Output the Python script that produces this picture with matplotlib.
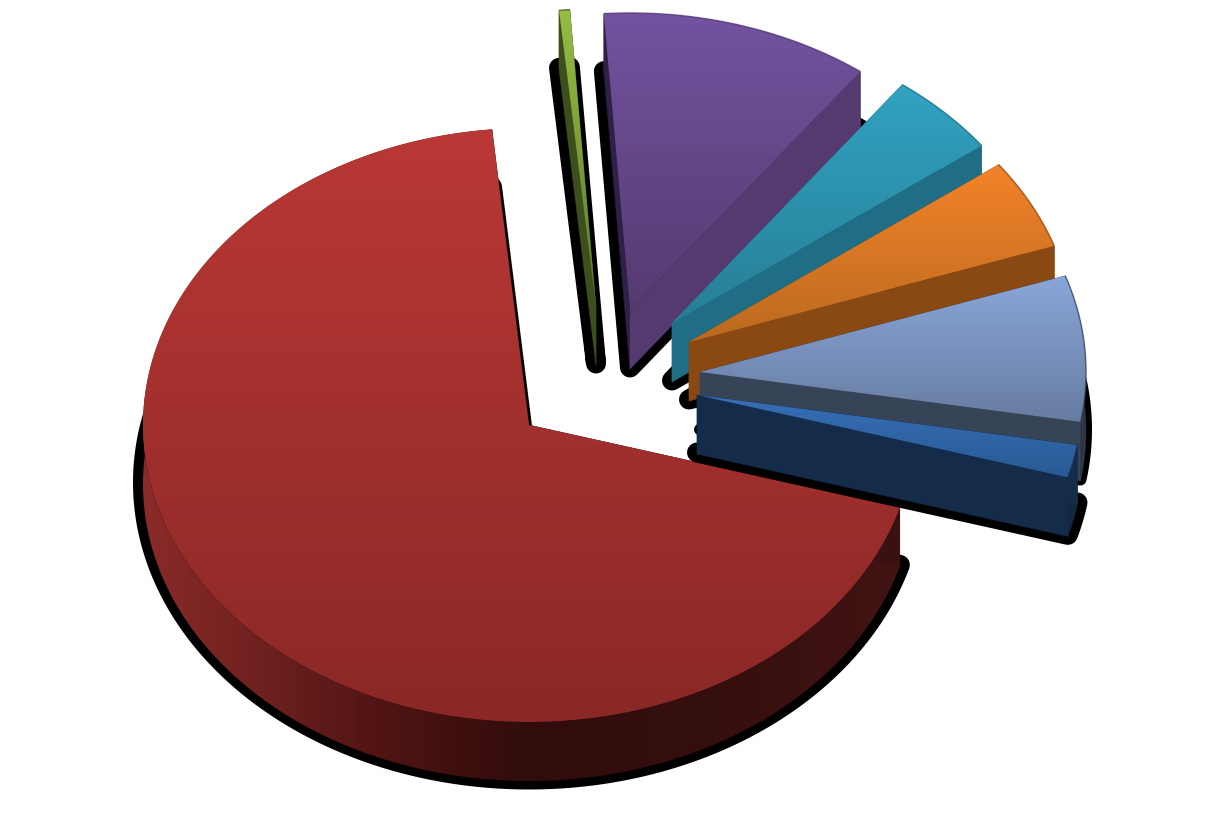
import matplotlib.pyplot as plt
import numpy as np
from matplotlib.collections import LineCollection
from matplotlib.colors import LinearSegmentedColormap, to_rgb
from matplotlib.patches import Polygon

# fatias, no sentido horario a partir do topo (valores em %)
fatias = ["verde", "roxo", "azul-petroleo", "laranja", "azul claro", "azul", "vermelho"]
valores = [0.45, 11.25, 4.64, 4.94, 7.94, 1.78, 69.0]

# cores: topo claro, topo escuro, parede da frente, parede esquerda, parede curva
topo_claro = ["#97BC45", "#7353A0", "#31A3C1", "#F48329", "#8AA6DA", "#3770B8", "#BA3835"]
topo_escuro = ["#5E7A28", "#553A70", "#277E96", "#BA6A20", "#677CA0", "#285A94", "#892826"]
parede = ["#3D4F1C", "#553A70", "#206E85", "#8A4912", "#374357", "#152B4A", "#3A1010"]
parede_esq = ["#3D4F1C", "#2E2046", "#206E85", "#8A4912", "#374357", "#152B4A", "#3A1010"]
parede_arco = ["#3D4F1C", "#553A70", "#206E85", "#8A4912", "#2E3547", "#14273F", "#3A1010"]

# posicao do vertice de cada fatia em pixels da figura (layout)
vertice_x = [596, 630, 672, 689, 700, 697, 529]
vertice_y = [306, 310, 323, 342, 372, 395, 425]
# largura da sombra de cada fatia, em pixels
sombra_px = [20, 20, 20, 20, 12, 20, 20]

angulo_inicial = 95.5
raio_x = 386.0
raio_y = 297.0
altura = 59 / raio_y
sombra_dy = 1.5 / raio_y  # sobe a sombra um pouco

fig = plt.figure(figsize=(12.06, 8.34), dpi=100, facecolor="white")
ax = fig.add_axes([0, 0, 1, 1])
# eixos em unidades do raio: a elipse vem da diferenca de escala entre x e y
xlim = (-529 / raio_x, (1206 - 529) / raio_x)
ylim = (-(834 - 425) / raio_y, 425 / raio_y)
ax.set_xlim(xlim)
ax.set_ylim(ylim)
ax.set_autoscale_on(False)
ax.axis("off")

valores = np.array(valores)
fim = angulo_inicial - np.cumsum(valores) * 3.6
ini = fim + valores * 3.6
cx = (np.array(vertice_x) - 529) / raio_x
cy = (425 - np.array(vertice_y)) / raio_y


def arco(c_x, c_y, a1, a2):
    t = np.radians(np.linspace(a1, a2, max(int(abs(a2 - a1) * 2), 8)))
    return np.column_stack([c_x + np.cos(t), c_y + np.sin(t)])


def gradiente(patch, cores, vertical, z):
    # imagem de gradiente recortada pelo contorno da face
    pts = patch.get_xy()
    mapa = LinearSegmentedColormap.from_list("g", cores)
    if vertical:
        dados = np.linspace(0, 1, 256).reshape(-1, 1)
    else:
        dados = np.linspace(0, 1, 256).reshape(1, -1)
    im = ax.imshow(dados, cmap=mapa, aspect="auto", interpolation="bilinear", zorder=z, origin="upper",
                   extent=[pts[:, 0].min(), pts[:, 0].max(), pts[:, 1].min(), pts[:, 1].max()])
    patch.set_transform(ax.transData)
    im.set_clip_path(patch)


# vermelho primeiro, depois as fatias destacadas de tras para a frente
ordem = [6, 0, 1, 2, 3, 4, 5]
z = 1
for i in ordem:
    a_ini, a_fim = ini[i], fim[i]
    pts_arco = arco(cx[i], cy[i], a_ini, a_fim)
    v = np.array([[cx[i], cy[i]]])
    face = np.vstack([v, pts_arco])
    desce = np.array([0, altura])
    base = face - desce

    # sombra preta: contorno grosso da base
    ax.add_patch(Polygon(base + [0, sombra_dy], closed=True, facecolor="black", edgecolor="black",
                         linewidth=sombra_px[i] * 0.72, joinstyle="round", zorder=z))
    z += 1

    # parede curva
    poli_arco = np.vstack([pts_arco, (pts_arco - desce)[::-1]])
    if fatias[i] == "vermelho":
        p = Polygon(poli_arco, closed=True, facecolor="none", edgecolor="none")
        cores_parede = [(0.0, "#8A2B29"), (0.16, "#6E201E"), (0.32, "#4E1412"), (0.5, "#320C0C"),
                        (0.75, "#350E0E"), (1.0, "#431414")]
        gradiente(p, cores_parede, False, z)
    else:
        ax.add_patch(Polygon(poli_arco, closed=True, facecolor=parede_arco[i], edgecolor=parede_arco[i],
                             linewidth=0.3, zorder=z))
    z += 1

    # paredes retas
    canto_ini = pts_arco[0]
    canto_fim = pts_arco[-1]
    for canto, cor in ((canto_ini, parede_esq[i]), (canto_fim, parede[i])):
        poli = np.vstack([v, canto[None, :], canto[None, :] - desce, v - desce])
        ax.add_patch(Polygon(poli, closed=True, facecolor=cor, edgecolor=cor, linewidth=0.3, zorder=z))
        z += 1

    # face de cima
    topo = Polygon(face, closed=True, facecolor="none", edgecolor="none")
    gradiente(topo, [topo_claro[i], topo_escuro[i]], True, z)
    z += 1

    # brilho / borda na parte curva
    segs = np.stack([pts_arco[:-1], pts_arco[1:]], axis=1)
    if fatias[i] == "vermelho":
        t = np.linspace(a_ini, a_fim, len(segs))
        alfa = np.clip(np.minimum((t - 165) / 15, (290 - t) / 50), 0, 1) * 0.75
        cores = [(0.87, 0.38, 0.36, a) for a in alfa]
        ax.add_collection(LineCollection(segs, colors=cores, linewidths=1.6, zorder=z))
    else:
        r, g, b = to_rgb(parede[i])
        ax.add_collection(LineCollection(segs, colors=[(r, g, b, 0.6)], linewidths=1.2, zorder=z))
    z += 1

ax.set_xlim(xlim)
ax.set_ylim(ylim)
fig.savefig("out.png", dpi=100, facecolor="white")
